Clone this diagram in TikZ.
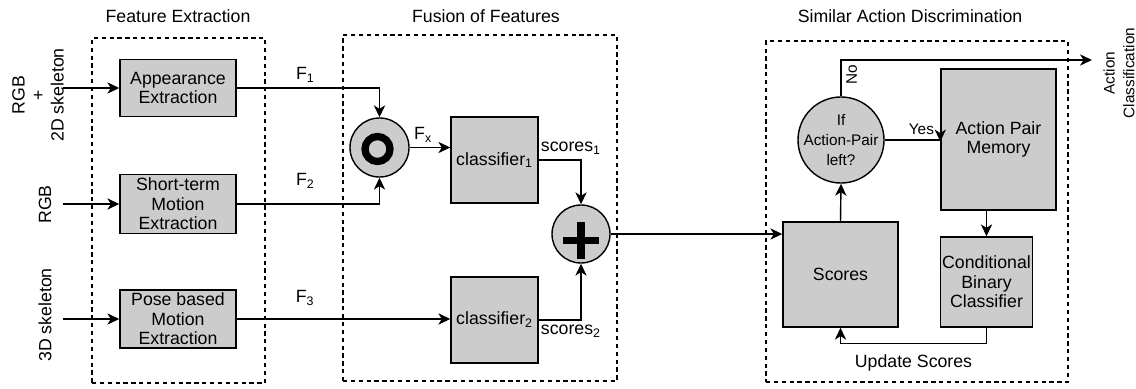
\documentclass[tikz,border=0pt]{standalone}
\usepackage{fontspec}
\setmainfont{Liberation Sans}
\usetikzlibrary{arrows.meta}

\begin{document}
\begin{tikzpicture}[x=0.025cm,y=-0.025cm,line width=1pt,>={Stealth[length=8.5pt,width=8pt,inset=2.5pt]},
font=\fontsize{12.6pt}{13.9pt}\selectfont,
blk/.style={draw,fill=black!20,align=center,inner sep=1pt},
rnd/.style={draw,fill=black!20,circle,inner sep=0pt,align=center},
frame/.style={draw,dash pattern=on 3pt off 2.6pt,line width=0.9pt},
small/.style={font=\fontsize{10.9pt}{14.2pt}\selectfont},
bar/.style={line width=5.2pt}]
\useasboundingbox (0,0) rectangle (1136,388);
% the three stages
\node[frame,minimum width=4.325cm,minimum height=8.625cm] (fext) at (178.5,210.5) {};
\node[frame,minimum width=6.85cm,minimum height=8.65cm] (ffus) at (480,208) {};
\node[frame,minimum width=7.55cm,minimum height=8.525cm] (fsad) at (917,211.5) {};
\node (tfext) at (178,16) {Feature Extraction};
\node (tffus) at (486,16) {Fusion of Features};
\node (tfsad) at (910,16) {Similar Action Discrimination};
% feature extraction
\node[blk,minimum width=2.9cm,minimum height=1.425cm] (app) at (178,88) {Appearance\\Extraction};
\node[blk,minimum width=2.9cm,minimum height=1.475cm] (stm) at (178,204) {Short-term\\Motion\\Extraction};
\node[blk,minimum width=2.9cm,minimum height=1.45cm] (pose) at (178,319) {Pose based\\Motion\\Extraction};
\node[rotate=90,align=center] (in1) at (38,95) {RGB\\+\\2D skeleton};
\node[rotate=90] (in2) at (45,204.5) {RGB};
\node[rotate=90] (in3) at (45,315) {3D skeleton};
\foreach \b in {app,stm,pose}{\coordinate (in-\b) at (63,0 |- \b.west); \draw[->] (in-\b) -- (\b.west);};
% fusion
\node[rnd,minimum size=1.475cm] (cat) at (379.5,147.5) {};
\draw[bar] ([shift={(-2,1.5)}]cat.center) circle (0.3125cm);
\node[blk,minimum width=2.175cm,minimum height=2.15cm] (cls1) at (494.5,160) {classifier\textsubscript{1}};
\node[blk,minimum width=2.175cm,minimum height=2.15cm] (cls2) at (494.5,320) {classifier\textsubscript{2}};
\node[rnd,minimum size=1.45cm] (add) at (581,234) {};
\draw[bar] ([shift={(-18,6.5)}]add.center) -- ([shift={(18,6.5)}]add.center);
\draw[bar] ([shift={(0,-12)}]add.center) -- ([shift={(0,25)}]add.center);
\draw[->] (app.east) -| node[pos=0.24,above]{F\textsubscript{1}} (cat.north);
\draw[->] (stm.east) -| node[pos=0.24,above=7pt]{F\textsubscript{2}} (cat.south);
\draw[->] (pose.east) -- node[pos=0.32,above=5.5pt]{F\textsubscript{3}} (pose.east -| cls2.west);
\draw[->] (cat.east) -- node[pos=0.33,above]{F\textsubscript{x}} (cat.east -| cls1.west);
\draw[->] (cls1.east) -| node[pos=0.38,above]{scores\textsubscript{1}} (add.north);
\draw[->] (cls2.east) -| node[pos=0.38,below]{scores\textsubscript{2}} (add.south);
% similar action discrimination
\node[blk,minimum width=2.875cm,minimum height=2.625cm] (scores) at (840.5,274.5) {Scores};
\node[rnd,small,inner sep=-1.5pt,minimum size=2.15cm] (pair) at (841,140) {If\\Action-Pair\\left?};
\node[blk,minimum width=2.875cm,minimum height=3.525cm] (mem) at (998.5,139.5) {Action Pair\\Memory};
\node[blk,minimum width=2.275cm,minimum height=2.25cm] (cbc) at (986.5,282) {Conditional\\Binary\\Classifier};
\node[rotate=90,small,align=center] (actcls) at (1119,73) {Action\\Classification};
\coordinate (out) at (1092,60);
\draw[->] (add.east) -- (add.east -| scores.west);
\draw[->] (scores.north) -- (pair.south);
\draw[->] (pair.north) |- node[pos=0.3,rotate=90,below,small]{No} (out);
\draw[->] (pair.east) -| node[pos=0.33,above,small]{Yes} ([shift={(0,2)}]mem.west);
\draw[->] (mem.south -| cbc.north) -- (cbc.north);
\draw[->] (cbc.south) -- ++(0,16) -| node[pos=0.25,below=4pt]{Update Scores} (scores.south);
\end{tikzpicture}
\end{document}
